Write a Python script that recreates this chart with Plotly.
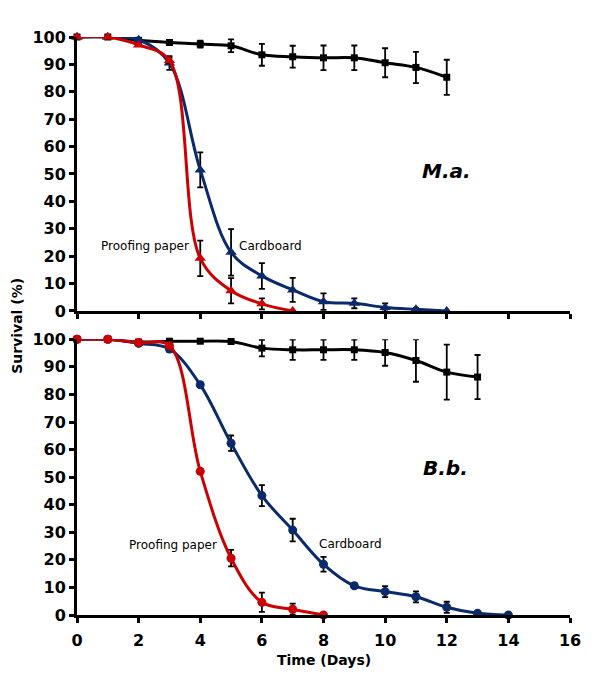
import plotly.graph_objects as go

# ---------------- data ----------------
# Top panel: M.a.
ma_ctrl_days = list(range(0, 13))
ma_ctrl = [100, 100, 98.8, 98.0, 97.4, 96.8, 93.5, 92.8, 92.4, 92.4, 90.6, 88.9, 85.3]
ma_ctrl_err = [0, 0, 0.6, 0.8, 1.3, 2.3, 4.0, 4.0, 4.5, 4.5, 5.3, 5.7, 6.4]

ma_card_days = list(range(0, 13))
ma_card = [100, 100, 99.0, 90.5, 51.5, 21.4, 12.8, 7.7, 3.4, 2.8, 1.3, 0.6, 0]
ma_card_err = [0, 0, 0, 2.5, 6.4, 8.5, 4.7, 4.4, 3.0, 1.8, 1.5, 0.5, 0]

ma_paper_days = list(range(0, 8))
ma_paper = [100, 100, 97.1, 91.4, 19.2, 7.4, 2.6, 0]
ma_paper_err = [0, 0, 0, 1.0, 6.5, 4.6, 2.0, 0]

# Bottom panel: B.b.
bb_ctrl_days = list(range(0, 14))
bb_ctrl = [100, 100, 99.0, 99.3, 99.3, 99.2, 96.8, 96.2, 96.2, 96.2, 95.2, 92.3, 88.1, 86.3]
bb_ctrl_err = [0, 0, 0.5, 0.5, 0.7, 0.7, 3.0, 3.7, 3.7, 3.7, 4.8, 7.7, 10.0, 8.0]

bb_card_days = list(range(0, 15))
bb_card = [100, 100, 98.5, 96.5, 83.5, 62.3, 43.3, 30.8, 18.4, 10.6, 8.5, 6.6, 2.8, 0.6, 0]
bb_card_err = [0, 0, 0, 1.0, 0.8, 2.8, 3.8, 4.1, 2.7, 0.8, 2.0, 2.0, 2.0, 0.5, 0]

bb_paper_days = list(range(0, 9))
bb_paper = [100, 100, 98.8, 97.7, 52.1, 20.6, 4.6, 2.1, 0]
bb_paper_err = [0, 0, 0.5, 1.0, 0.8, 3.0, 3.5, 2.0, 0]

x_ticks = list(range(0, 17, 2))
y_ticks = list(range(0, 101, 10))

# ---------------- styles ----------------
BLACK = "#000000"
BLUE = "#0B2A6B"
RED = "#CC0000"
FONT = "DejaVu Sans"

fig = go.Figure()


def add_series(x, y, err, color, symbol, size, xa, ya):
    fig.add_trace(go.Scatter(
        x=x, y=y, mode="lines+markers",
        line=dict(color=color, width=3, shape="spline", smoothing=1.0),
        marker=dict(color=color, symbol=symbol, size=size),
        error_y=dict(type="data", array=err, visible=True, color="black",
                     thickness=1.8, width=3),
        cliponaxis=False, showlegend=False, xaxis=xa, yaxis=ya,
    ))


# top panel
add_series(ma_ctrl_days, ma_ctrl, ma_ctrl_err, BLACK, "square", 7, "x", "y")
add_series(ma_card_days, ma_card, ma_card_err, BLUE, "triangle-up", 10, "x", "y")
add_series(ma_paper_days, ma_paper, ma_paper_err, RED, "triangle-up", 10, "x", "y")

# bottom panel
add_series(bb_ctrl_days, bb_ctrl, bb_ctrl_err, BLACK, "square", 7, "x2", "y2")
add_series(bb_card_days, bb_card, bb_card_err, BLUE, "circle", 9, "x2", "y2")
add_series(bb_paper_days, bb_paper, bb_paper_err, RED, "circle", 9, "x2", "y2")

axis_common = dict(showline=True, linecolor="black", linewidth=3, showgrid=False,
                   zeroline=False, ticks="outside", ticklen=5, tickwidth=3,
                   tickcolor="black", automargin=False,
                   tickfont=dict(family=FONT, size=16, color="black", weight="bold"))

# page body has an 8px margin, so the figure is sized to fit the 600x675 window
fig.update_layout(
    width=592, height=667,
    margin=dict(l=69, r=30, t=29, b=60),
    plot_bgcolor="white", paper_bgcolor="white",
    xaxis=dict(domain=[0, 1], anchor="y", range=[0, 16], tickvals=x_ticks,
               showticklabels=False, **axis_common),
    yaxis=dict(domain=[0.526, 1], anchor="x", range=[0, 100], tickvals=y_ticks,
               **axis_common),
    xaxis2=dict(domain=[0, 1], anchor="y2", range=[0, 16], tickvals=x_ticks,
                ticklabelstandoff=4, **axis_common),
    yaxis2=dict(domain=[0, 0.477], anchor="x2", range=[0, 100], tickvals=y_ticks,
                **axis_common),
)

lab = dict(family=FONT, size=12, color="black")
fig.add_annotation(x=2.21, y=23.7, xref="x", yref="y", text="Proofing paper",
                   showarrow=False, font=lab)
fig.add_annotation(x=6.27, y=23.7, xref="x", yref="y", text="Cardboard",
                   showarrow=False, font=lab)
fig.add_annotation(x=3.10, y=25.4, xref="x2", yref="y2", text="Proofing paper",
                   showarrow=False, font=lab)
fig.add_annotation(x=8.89, y=25.6, xref="x2", yref="y2", text="Cardboard",
                   showarrow=False, font=lab)

sp = dict(family=FONT, size=20, color="black", weight="bold", style="italic")
fig.add_annotation(x=11.98, y=51.2, xref="x", yref="y", text="M.a.",
                   showarrow=False, font=sp)
fig.add_annotation(x=11.95, y=53.2, xref="x2", yref="y2", text="B.b.",
                   showarrow=False, font=sp)

title_font = dict(family=FONT, size=14, color="black", weight="bold")
fig.add_annotation(x=-0.122, y=0.5, xref="paper", yref="paper", text="Survival (%)",
                   xanchor="center", yanchor="middle",
                   textangle=-90, showarrow=False, font=title_font)
fig.add_annotation(x=0.5, y=-0.078, xref="paper", yref="paper", text="Time (Days)",
                   xanchor="center", yanchor="middle",
                   showarrow=False, font=title_font)

fig.write_html("out.html")
